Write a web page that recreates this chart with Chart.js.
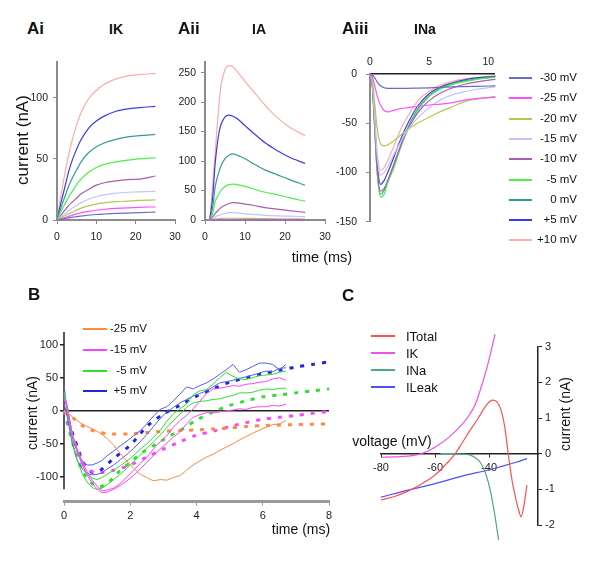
<!DOCTYPE html>
<html>
<head>
<meta charset="utf-8">
<script src="https://cdn.jsdelivr.net/npm/chart.js@4.4.1/dist/chart.umd.min.js"></script>
<style>
  body { margin: 0; background: #fff; }
  #fig { position: relative; width: 600px; height: 572px; overflow: hidden;
         font-family: 'Liberation Sans', Arial, Helvetica, sans-serif; color: #111; }
  #fig canvas { position: absolute; }
  .lbl { position: absolute; white-space: nowrap; line-height: 1; transform: translateY(-50%); }
  .panel { font-weight: bold; font-size: 17px; }
  .ttl { font-weight: bold; font-size: 14px; transform: translate(-50%, -50%); }
  .ax { font-size: 14px; transform: translate(-50%, -50%); }
  .rot { transform: translate(-50%, -50%) rotate(-90deg); }
  .legline { position: absolute; height: 2px; }
</style>
</head>
<body>
<div id="fig">
  <canvas id="cAi" width="190" height="220" style="left:0px;top:40px"></canvas>
  <canvas id="cAii" width="190" height="220" style="left:150px;top:40px"></canvas>
  <canvas id="cAiii" width="180" height="195" style="left:320px;top:40px"></canvas>
  <canvas id="cB" width="345" height="245" style="left:0px;top:300px"></canvas>
  <canvas id="cC" width="250" height="260" style="left:350px;top:300px"></canvas>

  <div class="lbl panel" style="left:27px;top:28px">Ai</div>
  <div class="lbl ttl" style="left:116px;top:29px">IK</div>
  <div class="lbl panel" style="left:178px;top:28px">Aii</div>
  <div class="lbl ttl" style="left:259px;top:29px">IA</div>
  <div class="lbl panel" style="left:342px;top:28px">Aiii</div>
  <div class="lbl ttl" style="left:425px;top:29px">INa</div>
  <div class="lbl panel" style="left:28px;top:294px">B</div>
  <div class="lbl panel" style="left:342px;top:295px">C</div>

  <div class="lbl ax rot" style="left:22px;top:140px;font-size:17px">current (nA)</div>
  <div class="lbl ax" style="left:322px;top:257px;font-size:14.5px">time (ms)</div>
  <div class="lbl ax rot" style="left:32px;top:413px">current (nA)</div>
  <div class="lbl ax" style="left:301px;top:529px">time (ms)</div>
  <div class="lbl ax" style="left:392px;top:441px">voltage (mV)</div>
  <div class="lbl ax rot" style="left:565px;top:414px">current (nA)</div>
</div>

<script>
// ---------- data ----------
// panel A: steps from -30 to +10 mV
const voltsA = ['-30 mV', '-25 mV', '-20 mV', '-15 mV', '-10 mV', '-5 mV', '0 mV', '+5 mV', '+10 mV'];
const colorsA = ['#6c6cc0', '#ff50ff', '#b4c850', '#c2c2ff', '#ac5cac', '#4cf04c', '#359a9a', '#3c3ce6', '#ffaaaa'];

// Ai  IK (nA) vs time (ms)
const ikTime = [0, 1, 2, 3, 4, 5, 6, 8, 10, 12, 15, 18, 21, 25];
const ikM30 = [0, 0.6, 1.2, 1.8, 2.3, 2.8, 3.2, 3.9, 4.5, 4.9, 5.4, 5.7, 6, 6.5];
const ikM25 = [0, 1, 2, 3, 4, 5, 5.8, 7, 8, 8.8, 9.5, 10, 10.3, 10.8];
const ikM20 = [0, 2, 3.5, 5, 6.5, 8, 9.5, 11.5, 13, 14, 15, 15.5, 16, 16.5];
const ikM15 = [0, 3, 5, 8, 10, 12, 14, 17, 19, 20.5, 22, 22.7, 23, 23.5];
const ikM10 = [0, 4, 8, 12, 15, 18, 21, 25, 28.5, 30.5, 32, 33, 33.5, 36];
const ikM5 = [0, 7, 13, 19, 24, 29, 33, 39, 43, 45.5, 47.5, 49, 50, 51];
const ik0 = [0, 10, 19, 28, 35, 41, 47, 55, 60, 63, 66, 68, 69, 70];
const ikP5 = [0, 14, 27, 40, 50, 58, 65, 75, 81, 85, 89, 91, 92, 93];
const ikP10 = [0, 20, 38, 54, 67, 78, 87, 99, 106, 111, 115.5, 118, 119, 120];

// Aii  IA
const iaTime = [0, 1, 1.5, 2, 2.5, 3, 3.5, 4, 5, 6, 7, 8, 10, 12, 15, 18, 21, 25];
const iaM30 = [0, 0, 0, 0, 0, 0, 0, 0, 0, 0, 0, 0, 0, 0, 0, 0, 0, 0];
const iaM25 = [0, 0, 0, 0.2, 0.3, 0.4, 0.5, 0.5, 0.5, 0.5, 0.5, 0.5, 0.5, 0.4, 0.4, 0.3, 0.3, 0.3];
const iaM20 = [0, 0, 0.5, 1, 1.5, 2, 2.5, 2.8, 3, 3, 3, 3, 2.8, 2.6, 2.3, 2, 1.9, 1.7];
const iaM15 = [0, 0, 1, 3, 5, 7, 8, 9, 11, 12.5, 12.5, 12, 10.5, 9.5, 8, 7, 6.5, 5.7];
const iaM10 = [0, 0, 2, 6, 11, 14, 18, 21, 25, 28, 29.5, 29, 27, 25, 21, 18.5, 16, 13];
const iaM5 = [0, 0, 4, 14, 31, 38, 44, 50, 57, 60, 61, 60, 57, 53, 47, 43, 38, 32];
const ia0 = [0, 0, 8, 25, 54, 70, 82, 92, 104, 110, 112, 110, 104, 96, 85, 77, 69, 59];
const iaP5 = [0, 0, 15, 45, 93, 125, 148, 162, 175, 178, 176, 172, 160, 148, 131, 118, 107, 96];
const iaP10 = [0, 0, 25, 70, 110, 155, 195, 228, 255, 262, 260, 252, 235, 219, 195, 174, 158, 143];

// Aiii  INa
const naTime = [0, 0.2, 0.4, 0.6, 0.9, 1.2, 1.5, 2, 2.5, 3, 4, 5, 6, 7, 8, 9, 10.6];
const naM30 = [0, -1, -4, -8, -12, -14, -14.5, -14.5, -14.5, -14.5, -14.3, -14, -13.5, -13, -12.8, -12.5, -12];
const naM25 = [0, -3, -12, -22, -32, -37, -38.5, -37, -35.5, -34.5, -33, -31.5, -30.5, -29, -26.5, -25, -23.5];
const naM20 = [0, -6, -30, -55, -71, -73, -72, -68, -63, -58, -50, -44, -38, -33, -28, -25.5, -23];
const naM15 = [0, -10, -45, -82, -103, -100, -94, -82, -71, -60, -45, -34, -26, -21, -18, -15.5, -13];
const naM10 = [0, -12, -52, -95, -119, -116, -108, -92, -76, -61, -40, -27, -19, -14, -10.4, -8, -5.4];
const naM5 = [0, -13, -56, -100, -125, -122, -110, -96, -78, -62, -38, -23, -15, -10.5, -7.7, -5.5, -3.4];
const na0 = [0, -13, -55, -98, -122, -118, -110, -93, -76, -60, -36, -22, -14, -9.5, -7, -5, -2.7];
const naP5 = [0, -12, -50, -90, -112, -108, -100, -85, -69, -55, -33, -20, -13, -9, -6, -4, -2.4];
const naP10 = [0, -10, -45, -80, -98, -95, -88, -74, -59, -47, -28, -17.5, -11, -7.5, -5, -3.5, -1.7];

const ikXTicks = [0, 10, 20, 30], ikYTicks = [0, 50, 100];
const iaXTicks = [0, 10, 20, 30], iaYTicks = [0, 50, 100, 150, 200, 250];
const naXTicks = [0, 5, 10], naYTicks = [0, -50, -100, -150];

// panel B: recorded (solid) and model (dashed) currents
const voltsB = ['-25 mV', '-15 mV', '-5 mV', '+5 mV'];
const colorsB = ['#ff8a3c', '#ff44ff', '#2ee02e', '#2424e0'];
const bTime = [0, 0.1, 0.25, 0.4, 0.55, 0.7, 0.85, 1, 1.15, 1.3, 1.5, 1.7, 1.9, 2.1, 2.3, 2.5, 2.7, 2.9,
               3.1, 3.3, 3.5, 3.7, 3.9, 4.1, 4.3, 4.5, 4.7, 4.9, 5.1, 5.3, 5.5, 5.7, 5.9, 6.1, 6.3, 6.5, 6.7];
const recM25 = [0, -3, -9, -15, -20, -24, -27, -31, -36, -42, -52, -65, -76, -87, -96, -101, -106, -104,
                -105, -101, -98, -90, -82, -76, -70, -66, -60, -55, -50, -44, -39, -34, -29, -25, -21, -20, -15];
const recM15a = [18, 5, -35, -58, -78, -92, -105, -114, -121, -120, -117, -110, -100, -90, -80, -70, -58, -47,
                 -38, -25, -15, -7, 3, 14, 26, 33, 34, 36, 38, 37, 40, 41, 43, 44, 48, 50, 46];
const recM15b = [20, 8, -38, -62, -82, -97, -110, -118, -124, -123, -119, -113, -106, -98, -88, -78, -68, -58,
                 -49, -40, -32, -20, -10, -6, -3, -3, -2, 0, 1, 3, 2, 5, 6, 6, 8, 7, 10];
const recM5a = [28, 5, -35, -62, -82, -96, -102, -104, -101, -96, -90, -83, -76, -68, -58, -50, -40, -30,
                -16, -5, 3, 10, 24, 30, 32, 40, 50, 58, 52, 48, 47, 50, 53, 54, 55, 58, 60];
const recM5b = [25, 0, -45, -75, -95, -108, -116, -119, -117, -112, -104, -96, -87, -77, -67, -57, -47, -37,
                -26, -15, -5, 5, 12, 14, 15, 17, 18, 21, 23, 27, 27, 28, 31, 33, 32, 34, 34];
const recP5a = [40, -5, -40, -62, -76, -82, -82, -79, -75, -68, -61, -53, -46, -38, -30, -20, -8, 2,
                6, 15, 25, 36, 33, 38, 42, 48, 55, 62, 70, 58, 62, 67, 72, 72, 70, 62, 70];
const recP5b = [12, -10, -50, -75, -88, -95, -97, -96, -94, -88, -82, -74, -66, -57, -47, -36, -24, -12,
                -2, 5, 12, 17, 22, 26, 30, 36, 42, 44, 46, 49, 51, 54, 57, 60, 59, 64, 65];

const modM25T = [0, 0.3, 0.6, 1, 1.4, 2, 2.5, 3, 3.5, 4, 4.5, 5, 5.5, 6, 7, 8, 8.2];
const modM25 = [0, -12, -24, -32, -35, -35, -33, -31, -30, -29, -27.5, -26, -24, -22.5, -21, -20, -20];
const modM15T = [0, 0.3, 0.6, 0.9, 1.2, 1.5, 2, 2.5, 3, 3.5, 4, 4.5, 5, 5.5, 6, 6.5, 7, 7.5, 8, 8.2];
const modM15 = [0, -45, -82, -93, -93, -90, -82, -70, -58, -47, -37, -31, -24, -18, -13, -10, -7, -4, -1, 0];
const modM5T = [0, 0.3, 0.6, 1, 1.3, 1.6, 2, 2.4, 2.8, 3.2, 3.6, 4, 4.5, 5, 5.5, 6, 6.5, 7, 7.5, 8, 8.2];
const modM5 = [0, -55, -95, -115, -110, -95, -78, -62, -50, -38, -27, -14, -2, 8, 15, 21, 24, 27, 30, 33, 34];
const modP5T = [0, 0.3, 0.6, 0.85, 1.1, 1.5, 2, 2.5, 3, 3.5, 4, 4.5, 5, 5.5, 6, 6.5, 7, 7.5, 8, 8.2];
const modP5 = [0, -40, -80, -93, -90, -72, -52, -24, -5, 8, 22, 33, 43, 50, 56, 61, 66, 70, 74, 76];

const bXTicks = [0, 2, 4, 6, 8], bYTicks = [-100, -50, 0, 50, 100];
const bYAxisTop = 119, bYAxisBottom = -118.5;

// panel C: current-voltage relations
const namesC = ['ITotal', 'IK', 'INa', 'ILeak'];
const colorsC = ['#ff5050', '#f050f0', '#4caa8a', '#5050f0'];
const totV = [-80, -75, -70, -65, -60, -56, -53, -50, -47, -44, -41, -38.7, -37.2, -35.5, -34.2, -33, -31.5, -30, -28.8, -28.2, -27.2, -26];
const totI = [-1.3, -1.2, -1.05, -0.85, -0.6, -0.3, -0.05, 0.3, 0.66, 1.0, 1.36, 1.5, 1.46, 1.2, 0.75, 0.05, -0.75, -1.3, -1.65, -1.77, -1.5, -0.88];
const kV = [-80, -75, -70, -65, -60, -55, -50, -47, -45, -43, -41, -39.5, -37.8];
const kI = [-0.1, -0.09, -0.07, 0.0, 0.18, 0.45, 0.82, 1.12, 1.4, 1.85, 2.35, 2.8, 3.35];
const naV = [-58, -54, -50, -47, -45, -43, -41, -39.5, -38.4, -37.4, -36.5];
const naI = [0, 0, -0.01, -0.04, -0.12, -0.27, -0.62, -1.05, -1.49, -1.95, -2.42];
const leakV = [-80, -70, -60, -50, -40, -30, -26];
const leakI = [-1.22, -1.02, -0.84, -0.63, -0.45, -0.24, -0.14];
const cXTicks = [-80, -60, -40], cYTicks = [-2, -1, 0, 1, 2, 3];

// ---------- helpers ----------
const FONT = "'Liberation Sans', Arial, Helvetica, sans-serif";
Chart.defaults.font.family = FONT;
Chart.defaults.color = '#222';
const GRAY = '#8c8c8c';
const fig = document.getElementById('fig');

function pts(xs, ys) { return xs.map((x, i) => ({ x: x, y: ys[i] })); }

function line(xs, ys, color, extra) {
  return Object.assign({
    data: pts(xs, ys), borderColor: color, backgroundColor: color,
    borderWidth: 1.2, pointRadius: 0, fill: false, clip: false,
    cubicInterpolationMode: 'monotone'
  }, extra || {});
}

function axis(o) {
  return {
    type: 'linear', min: o.min, max: o.max, position: o.pos,
    border: { display: o.border !== false, color: o.bc, width: o.bw },
    grid: {
      display: true, drawOnChartArea: !!o.gridColor, color: o.gridColor || o.tc,
      tickColor: o.tc, tickLength: o.tl || 0, drawTicks: (o.tl || 0) > 0, lineWidth: o.glw || 1
    },
    ticks: { font: { size: o.fs }, color: '#222', padding: o.pad, maxRotation: 0, autoSkip: false },
    afterBuildTicks: s => { s.ticks = o.ticks.map(v => ({ value: v })); },
    afterFit: s => {
      if (o.w != null) s.width = o.w;
      if (o.h != null) s.height = o.h;
      s.paddingLeft = s.paddingRight = s.paddingTop = s.paddingBottom = 0;
    }
  };
}

function makeChart(id, datasets, padding, scales, plugins) {
  return new Chart(document.getElementById(id), {
    type: 'line',
    data: { datasets: datasets },
    options: {
      responsive: false, animation: false, events: [],
      layout: { padding: padding },
      plugins: { legend: { display: false }, tooltip: { enabled: false } },
      elements: { point: { radius: 0 } },
      scales: scales
    },
    plugins: plugins || []
  });
}

function addLegend(names, colors, o) {
  names.forEach((name, i) => {
    const y = o.y0 + i * o.dy;
    const ln = document.createElement('div');
    ln.className = 'legline';
    ln.style.cssText = 'left:' + o.x0 + 'px;top:' + (y - o.lw / 2) + 'px;width:' + o.w +
      'px;height:' + o.lw + 'px;background:' + colors[i];
    fig.appendChild(ln);
    const tx = document.createElement('div');
    tx.className = 'lbl';
    tx.textContent = name;
    tx.style.fontSize = o.size + 'px';
    tx.style.top = y + 'px';
    if (o.right) tx.style.right = (600 - o.tx) + 'px'; else tx.style.left = o.tx + 'px';
    fig.appendChild(tx);
  });
}

// ---------- panel Ai ----------
const ikSeries = [ikM30, ikM25, ikM20, ikM15, ikM10, ikM5, ik0, ikP5, ikP10];
makeChart('cAi', ikSeries.map((s, i) => line(ikTime, s, colorsA[i])),
  { left: 0, top: 22, right: 15, bottom: 10 },
  {
    x: axis({ min: 0, max: 30, pos: 'bottom', bc: GRAY, bw: 2, tc: GRAY, tl: 4, fs: 10.5, pad: 7, ticks: ikXTicks, h: 30 }),
    y: axis({ min: 0, max: 129.3, pos: 'left', bc: GRAY, bw: 2, tc: GRAY, tl: 4, fs: 10.5, pad: 5, ticks: ikYTicks, w: 57 })
  });

// ---------- panel Aii ----------
const iaSeries = [iaM30, iaM25, iaM20, iaM15, iaM10, iaM5, ia0, iaP5, iaP10];
makeChart('cAii', iaSeries.map((s, i) => line(iaTime, s, colorsA[i])),
  { left: 0, top: 22, right: 15, bottom: 10 },
  {
    x: axis({ min: 0, max: 30, pos: 'bottom', bc: GRAY, bw: 2, tc: GRAY, tl: 4, fs: 10.5, pad: 7, ticks: iaXTicks, h: 30 }),
    y: axis({ min: 0, max: 268, pos: 'left', bc: GRAY, bw: 2, tc: GRAY, tl: 4, fs: 10.5, pad: 5, ticks: iaYTicks, w: 55 })
  });

// ---------- panel Aiii ----------
const naSeries = [naM30, naM25, naM20, naM15, naM10, naM5, na0, naP5, naP10];
makeChart('cAiii', naSeries.map((s, i) => line(naTime, s, colorsA[i])),
  { left: 0, top: 14, right: 5.8, bottom: 13.3 },
  {
    x: axis({ min: 0, max: 10.5, pos: 'top', bc: '#222', bw: 1.5, tc: '#222', tl: 0, fs: 10.5, pad: 6, ticks: naXTicks, h: 20 }),
    y: axis({ min: -150, max: 0, pos: 'left', bc: GRAY, bw: 2, tc: GRAY, tl: 4, fs: 10.5, pad: 9, ticks: naYTicks, w: 50 })
  });
addLegend(voltsA, colorsA, { x0: 509, w: 23, lw: 2, y0: 78, dy: 20.3, tx: 577, right: true, size: 11.5 });

// ---------- panel B ----------
const yAxisLine = {
  id: 'yAxisLine',
  beforeDatasetsDraw(chart) {
    const ctx = chart.ctx, x = chart.scales.x, y = chart.scales.y;
    const px = x.getPixelForValue(0);
    ctx.save();
    ctx.strokeStyle = '#222';
    ctx.lineWidth = 1.5;
    ctx.beginPath();
    ctx.moveTo(px, y.getPixelForValue(bYAxisTop));
    ctx.lineTo(px, y.getPixelForValue(bYAxisBottom));
    ctx.stroke();
    ctx.restore();
  }
};
const solid = { tension: 0, cubicInterpolationMode: 'default', borderWidth: 1 };
const dashed = { tension: 0.3, cubicInterpolationMode: 'default', borderWidth: 3, borderDash: [4, 7] };
makeChart('cB', [
  line(bTime, recM25, colorsB[0], solid),
  line(bTime, recM15a, colorsB[1], solid),
  line(bTime, recM15b, colorsB[1], solid),
  line(bTime, recM5a, colorsB[2], solid),
  line(bTime, recM5b, colorsB[2], solid),
  line(bTime, recP5a, '#5060f0', solid),
  line(bTime, recP5b, '#5060f0', solid),
  line(modM25T, modM25, colorsB[0], dashed),
  line(modM15T, modM15, colorsB[1], dashed),
  line(modM5T, modM5, colorsB[2], dashed),
  line(modP5T, modP5, colorsB[3], dashed)
], { left: 0, top: 32, right: 16, bottom: 13.3 }, {
  x: axis({ min: 0, max: 8, pos: 'bottom', bc: '#9a9a9a', bw: 3, tc: '#9a9a9a', tl: 4, fs: 11, pad: 4, ticks: bXTicks, h: 30 }),
  y: axis({ min: -137.5, max: 119, pos: 'left', border: false, tc: '#222', tl: 4, fs: 11, pad: 2, ticks: bYTicks, w: 64,
            gridColor: c => (c.tick && c.tick.value === 0 ? '#222' : 'rgba(0,0,0,0)'), glw: 1.5 })
}, [yAxisLine]);
addLegend(voltsB, colorsB, { x0: 83, w: 24, lw: 2, y0: 329.3, dy: 20.6, tx: 147, right: true, size: 11.5 });

// ---------- panel C ----------
makeChart('cC', [
  line(totV, totI, colorsC[0]),
  line(kV, kI, colorsC[1]),
  line(naV, naI, colorsC[2]),
  line(leakV, leakI, colorsC[3])
], { left: 31, top: 46.7, right: 0, bottom: 35 }, {
  x: axis({ min: -80, max: -21.9, pos: { y: 0 }, bc: '#222', bw: 1.5, tc: '#222', tl: 3, fs: 11, pad: 5, ticks: cXTicks }),
  y: axis({ min: -2, max: 3, pos: 'right', bc: '#222', bw: 1.5, tc: '#222', tl: 4, fs: 11, pad: 3, ticks: cYTicks, w: 62 })
});
addLegend(namesC, colorsC, { x0: 371, w: 24, lw: 1.5, y0: 336, dy: 17, tx: 406, right: false, size: 13 });
</script>
</body>
</html>
